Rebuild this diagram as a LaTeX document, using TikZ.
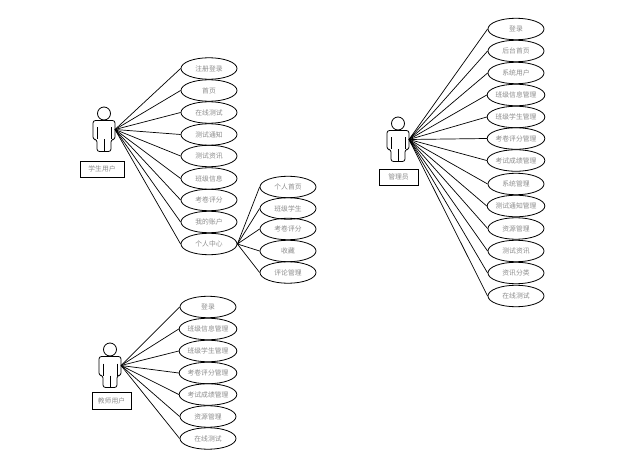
\documentclass[tikz,border=0pt]{standalone}
\usepackage{fontspec}
\newfontfamily\cjk{Noto Sans CJK SC}
\tikzset{
  usecase/.style={draw=black,line width=0.8pt,ellipse,minimum width=56pt,minimum height=21.5pt,inner sep=0pt,text=black!45,font=\cjk\fontsize{6.8}{8}\selectfont},
  rolebox/.style={draw=black,line width=0.8pt,rectangle,inner sep=0pt,text=black!45,font=\cjk\fontsize{6.8}{8}\selectfont},
  link/.style={draw=black,line width=0.7pt},
  figure/.style={draw=black,line width=0.8pt,line join=round}
}
\usetikzlibrary{shapes.geometric}
% \uc{name}{x}{y}{text}
\newcommand{\uc}[4]{\node[usecase] (#1) at (#2,#3) {#4};}
% \stick{name}{x}{y}: figure with head centre at x,y and hub coordinate name
\newcommand{\stick}[3]{%
  \begin{scope}[shift={(#2,#3)}]
    \node[figure,draw,circle,minimum size=13pt,inner sep=0pt] (#1head) at (0,0) {};
    \draw[figure,rounded corners=2.5pt] (-4,7) -- (-11,7) -- (-11,26) -- (-7,26) -- (-7,38) -- (7,38) -- (7,26) -- (11,26) -- (11,7) -- (4,7) -- cycle;
    \draw[figure] (-7,14) -- (-7,26) (7,14) -- (7,26) (0,26) -- (0,38);
    \coordinate (#1) at (11,16);
  \end{scope}}
\begin{document}
\begin{tikzpicture}[x=1pt,y=-1pt]
\useasboundingbox (0,0) rectangle (635,468);
\fill[white] (0,0) rectangle (635,468);
% student
\stick{stu}{104}{113.5}
\node[rolebox,minimum width=44pt,minimum height=16pt] (stubox) at (102,169) {学生用户};
\uc{s1}{209}{68.5}{注册登录}
\uc{s2}{209}{90.5}{首页}
\uc{s3}{209}{112.5}{在线测试}
\uc{s4}{209}{134.5}{测试通知}
\uc{s5}{209}{156}{测试资讯}
\uc{s6}{209}{178.5}{班级信息}
\uc{s7}{209}{200}{考卷评分}
\uc{s8}{209}{222}{我的账户}
\uc{s9}{209}{244}{个人中心}
\foreach \n in {s1,s2,s3,s4,s5,s6,s7,s8,s9} \draw[link] (stu) -- (\n.west);
\uc{p1}{288}{187}{个人首页}
\uc{p2}{288}{208.5}{班级学生}
\uc{p3}{288}{229}{考卷评分}
\uc{p4}{288}{251}{收藏}
\uc{p5}{288}{272.5}{评论管理}
\foreach \n in {p1,p2,p3,p4,p5} \draw[link] (s9.east) -- (\n.west);
% teacher
\stick{tea}{110}{349.5}
\node[rolebox,minimum width=39pt,minimum height=17pt] (teabox) at (111.5,400.5) {教师用户};
\uc{t1}{208}{307}{登录}
\uc{t2}{208}{329}{班级信息管理}
\uc{t3}{208}{351}{班级学生管理}
\uc{t4}{208}{373}{考卷评分管理}
\uc{t5}{208}{394.5}{考试成绩管理}
\uc{t6}{208}{416.5}{资源管理}
\uc{t7}{208}{438.5}{在线测试}
\foreach \n in {t1,t2,t3,t4,t5,t6,t7} \draw[link] (tea) -- (\n.west);
% admin
\stick{adm}{398}{123.5}
\node[rolebox,minimum width=39pt,minimum height=16pt] (admbox) at (398.5,177) {管理员};
\uc{a1}{516}{29}{登录}
\uc{a2}{516}{51}{后台首页}
\uc{a3}{516}{73}{系统用户}
\uc{a4}{516}{95}{班级信息管理}
\uc{a5}{516}{117}{班级学生管理}
\uc{a6}{516}{138.5}{考卷评分管理}
\uc{a7}{516}{160.5}{考试成绩管理}
\uc{a8}{516}{184}{系统管理}
\uc{a9}{516}{206}{测试通知管理}
\uc{a10}{516}{228.5}{资源管理}
\uc{a11}{516}{251}{测试资讯}
\uc{a12}{516}{273}{资讯分类}
\uc{a13}{516}{296}{在线测试}
\foreach \n in {a1,a2,a3,a4,a5,a6,a7,a8,a9,a10,a11,a12,a13} \draw[link] (adm) -- (\n.west);
\end{tikzpicture}
\end{document}
